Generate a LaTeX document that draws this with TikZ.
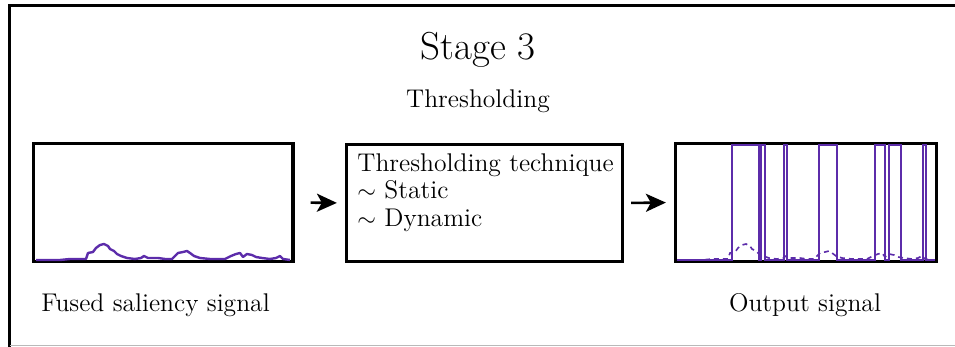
\documentclass[tikz,border=0pt]{standalone}
\usetikzlibrary{arrows.meta}
\definecolor{sigpurple}{RGB}{92,44,170}
\begin{document}
\begin{tikzpicture}[x=0.5pt,y=-0.5pt,
  frame/.style={line width=1.7pt},
  panel/.style={draw,line width=1.6pt,inner sep=0pt},
  lbl/.style={font=\fontsize{12.8}{15}\selectfont,inner sep=0pt,anchor=base},
  flow/.style={line width=1.3pt,-{Stealth[length=10pt,width=9pt,inset=2.5pt]}},
  sig/.style={sigpurple,line width=1.2pt,line join=round},
  bin/.style={sigpurple,line width=0.75pt}]
\useasboundingbox (0,0) rectangle (955,347);
% page frame: open on the right
\draw[frame] (955,5.5) -- (9.5,5.5) -- (9.5,347);
\draw[gray!55,line width=0.5pt] (9.5,345.5) -- (955,345.5);

% titles
\node[lbl,font=\fontsize{19.5}{23}\selectfont] (title) at (478,60) {Stage 3};
\node[lbl] (sub) at (478,108) {Thresholding};

% panels
\node[panel,minimum width=129.75pt,minimum height=59pt] (insig) at (163.25,202.5) {};
\node[panel,minimum width=138pt,minimum height=58.5pt] (method) at (484.5,203) {};
\node[panel,minimum width=130.5pt,minimum height=59pt] (outsig) at (806,202.5) {};

\node[anchor=north west,align=left,inner sep=0pt,
      font=\fontsize{12.8}{13.8}\selectfont] (mtext) at (357,153)
  {Thresholding technique\\ $\sim$ Static\\ $\sim$ Dynamic};

% connectors
\draw[flow,shorten <=8pt,shorten >=4pt] (insig.east) -- (method.west);
\draw[flow,shorten <=3.5pt,shorten >=4pt] (method.east) -- (outsig.west);

% saliency curve
\def\salpath{(36,260) -- (60,260) -- (70,259) -- (86,259) -- (88,253) -- (93,252)
  -- (96,248) -- (100,245) -- (104,244) -- (108,246) -- (110,249) -- (114,251)
  -- (117,254) -- (121,256) -- (127,258) -- (135,259) -- (141,258) -- (144,256)
  -- (148,258) -- (158,258) -- (165,259) -- (172,259) -- (175,256) -- (178,253)
  -- (183,252) -- (187,251) -- (190,253) -- (194,256) -- (200,258) -- (210,259)
  -- (225,259) -- (231,256) -- (236,254) -- (240,253) -- (243,257) -- (247,254)
  -- (252,255) -- (256,257) -- (262,258) -- (270,259) -- (276,258) -- (280,256)
  -- (283,259) -- (290,260)}
\draw[sig] \salpath;

% binary output with the saliency curve underneath
\begin{scope}[xshift=321pt]
  \draw[sigpurple,line width=0.8pt,dash pattern=on 2.5pt off 2pt] \salpath;
\end{scope}
\draw[bin] (677,260) -- (732,260) -- (732,145) -- (759,145) -- (759,260)
  -- (761,260) -- (761,145) -- (765,145) -- (765,260) -- (784,260) -- (784,145)
  -- (787,145) -- (787,260) -- (819,260) -- (819,145) -- (837,145) -- (837,260)
  -- (875,260) -- (875,145) -- (885,145) -- (885,260) -- (889,260) -- (889,145)
  -- (901,145) -- (901,260) -- (923,260) -- (923,145) -- (926,145) -- (926,260)
  -- (935,260);

% captions
\node[lbl] (incap) at (155.5,312) {Fused saliency signal};
\node[lbl] (outcap) at (805,312) {Output signal};
\end{tikzpicture}
\end{document}
